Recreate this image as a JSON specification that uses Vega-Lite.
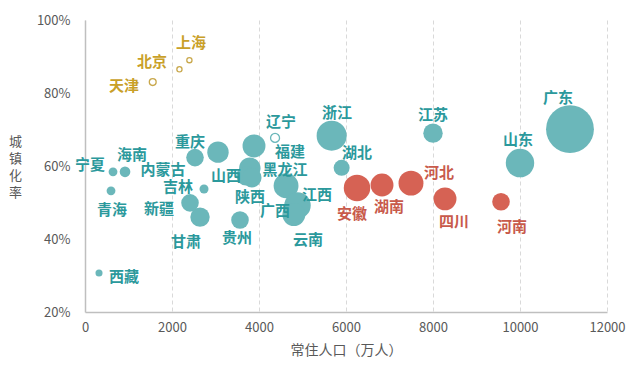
{
  "$schema": "https://vega.github.io/schema/vega-lite/v6.json",
  "width": 522,
  "height": 292,
  "autosize": {"type": "none"},
  "padding": {"left": 85, "top": 20, "right": 35, "bottom": 62},
  "background": "white",
  "config": {"view": {"stroke": null}, "font": "Noto Sans CJK SC"},
  "data": {
    "values": [
      {"name": "北京", "pop": 2171, "rate": 86.5, "inc": 2, "dir": "减", "cat": "京津沪", "lx": 1540, "ly": 88.5},
      {"name": "上海", "pop": 2400, "rate": 89.0, "inc": 2, "dir": "减", "cat": "京津沪", "lx": 2437, "ly": 93.7},
      {"name": "天津", "pop": 1557, "rate": 83.0, "inc": 3.5, "dir": "减", "cat": "京津沪", "lx": 897, "ly": 81.9},
      {"name": "辽宁", "pop": 4369, "rate": 67.7, "inc": 6, "dir": "减", "cat": "其他省份", "lx": 4506, "ly": 72.1},
      {"name": "广东", "pop": 11149, "rate": 70.1, "inc": 170, "dir": "增", "cat": "其他省份", "lx": 10874, "ly": 78.6},
      {"name": "山东", "pop": 10000, "rate": 60.8, "inc": 60, "dir": "增", "cat": "其他省份", "lx": 9954, "ly": 67.1},
      {"name": "江苏", "pop": 8000, "rate": 69.0, "inc": 28, "dir": "增", "cat": "其他省份", "lx": 8000, "ly": 74.0},
      {"name": "浙江", "pop": 5670, "rate": 68.3, "inc": 67, "dir": "增", "cat": "其他省份", "lx": 5793, "ly": 74.5},
      {"name": "湖北", "pop": 5900, "rate": 59.5, "inc": 19, "dir": "增", "cat": "其他省份", "lx": 6253, "ly": 63.6},
      {"name": "福建", "pop": 3885, "rate": 65.5, "inc": 39, "dir": "增", "cat": "其他省份", "lx": 4713, "ly": 63.9},
      {"name": "黑龙江", "pop": 3789, "rate": 59.4, "inc": 34, "dir": "增", "cat": "其他省份", "lx": 4598, "ly": 58.8},
      {"name": "山西", "pop": 3702, "rate": 57.3, "inc": 28, "dir": "增", "cat": "其他省份", "lx": 3241, "ly": 57.3},
      {"name": "陕西", "pop": 3835, "rate": 56.8, "inc": 28, "dir": "增", "cat": "其他省份", "lx": 3793, "ly": 51.5},
      {"name": "江西", "pop": 4622, "rate": 54.6, "inc": 46, "dir": "增", "cat": "其他省份", "lx": 5333, "ly": 52.1},
      {"name": "广西", "pop": 4885, "rate": 49.2, "inc": 52, "dir": "增", "cat": "其他省份", "lx": 4368, "ly": 47.7},
      {"name": "云南", "pop": 4801, "rate": 46.7, "inc": 39, "dir": "增", "cat": "其他省份", "lx": 5126, "ly": 39.7},
      {"name": "贵州", "pop": 3563, "rate": 45.2, "inc": 23, "dir": "增", "cat": "其他省份", "lx": 3494, "ly": 40.3},
      {"name": "甘肃", "pop": 2644, "rate": 46.0, "inc": 28, "dir": "增", "cat": "其他省份", "lx": 2322, "ly": 39.2},
      {"name": "新疆", "pop": 2414, "rate": 49.9, "inc": 23, "dir": "增", "cat": "其他省份", "lx": 1701, "ly": 48.2},
      {"name": "吉林", "pop": 2736, "rate": 53.7, "inc": 6, "dir": "增", "cat": "其他省份", "lx": 2138, "ly": 54.2},
      {"name": "内蒙古", "pop": 2529, "rate": 62.3, "inc": 23, "dir": "增", "cat": "其他省份", "lx": 1793, "ly": 58.9},
      {"name": "重庆", "pop": 3057, "rate": 63.8, "inc": 34, "dir": "增", "cat": "其他省份", "lx": 2414, "ly": 66.6},
      {"name": "海南", "pop": 920, "rate": 58.4, "inc": 8.4, "dir": "增", "cat": "其他省份", "lx": 1080, "ly": 63.0},
      {"name": "宁夏", "pop": 644, "rate": 58.4, "inc": 5.8, "dir": "增", "cat": "其他省份", "lx": 115, "ly": 60.3},
      {"name": "青海", "pop": 598, "rate": 53.2, "inc": 5.8, "dir": "增", "cat": "其他省份", "lx": 621, "ly": 47.9},
      {"name": "西藏", "pop": 322, "rate": 30.7, "inc": 3.7, "dir": "增", "cat": "其他省份", "lx": 897, "ly": 29.6},
      {"name": "安徽", "pop": 6253, "rate": 54.0, "inc": 52, "dir": "增", "cat": "人口大省", "lx": 6138, "ly": 46.8},
      {"name": "湖南", "pop": 6828, "rate": 54.8, "inc": 39, "dir": "增", "cat": "人口大省", "lx": 6989, "ly": 48.8},
      {"name": "河北", "pop": 7494, "rate": 55.3, "inc": 46, "dir": "增", "cat": "人口大省", "lx": 8138, "ly": 58.1},
      {"name": "四川", "pop": 8276, "rate": 51.0, "inc": 39, "dir": "增", "cat": "人口大省", "lx": 8483, "ly": 44.7},
      {"name": "河南", "pop": 9563, "rate": 50.2, "inc": 23, "dir": "增", "cat": "人口大省", "lx": 9816, "ly": 43.3}
    ]
  },
  "layer": [
    {
      "transform": [{"filter": "datum.dir === '增'"}],
      "mark": {"type": "circle", "opacity": 1},
      "encoding": {
        "x": {
          "field": "pop", "type": "quantitative",
          "scale": {"domain": [0, 12000], "nice": false, "zero": true},
          "axis": {
            "title": "常住人口（万人）",
            "values": [0, 2000, 4000, 6000, 8000, 10000, 12000],
            "format": "d",
            "grid": true, "gridDash": [4, 3], "gridColor": "#D9D9D9", "gridWidth": 1,
            "domainColor": "#BFBFBF", "domainWidth": 1.5,
            "ticks": false, "labelPadding": 9, "labelFontSize": 13, "labelColor": "#595959",
            "labelFlush": false,
            "titleFontSize": 14, "titleFontWeight": "normal", "titleColor": "#595959", "titlePadding": 9
          }
        },
        "y": {
          "field": "rate", "type": "quantitative",
          "scale": {"domain": [20, 100], "nice": false, "zero": false},
          "axis": {
            "title": ["城", "镇", "化", "率"],
            "values": [20, 40, 60, 80, 100],
            "labelExpr": "datum.value + '%'",
            "grid": false, "ticks": false,
            "domainColor": "#BFBFBF", "domainWidth": 1.5,
            "labelPadding": 15, "labelFontSize": 13, "labelColor": "#595959",
            "titleAngle": 0, "titleX": -70, "titleY": 121, "titleAlign": "center", "titleBaseline": "middle",
            "titleLineHeight": 17, "titleFontSize": 13, "titleFontWeight": "normal", "titleColor": "#595959"
          }
        },
        "size": {"field": "inc", "type": "quantitative", "scale": {"type": "linear", "domain": [0, 170], "range": [0, 2290], "zero": true}, "legend": null},
        "color": {"field": "cat", "type": "nominal", "scale": {"domain": ["京津沪", "其他省份", "人口大省"], "range": ["#C9A84C", "#6BB7BA", "#D66254"]}, "legend": null}
      }
    },
    {
      "transform": [{"filter": "datum.dir === '减'"}],
      "mark": {"type": "point", "shape": "circle", "filled": false, "strokeWidth": 1.3, "opacity": 1},
      "encoding": {
        "x": {"field": "pop", "type": "quantitative"},
        "y": {"field": "rate", "type": "quantitative"},
        "size": {"field": "inc", "type": "quantitative", "legend": null},
        "color": {"field": "cat", "type": "nominal", "scale": {"domain": ["京津沪", "其他省份", "人口大省"], "range": ["#C9A84C", "#6BB7BA", "#D66254"]}, "legend": null}
      }
    },
    {
      "mark": {"type": "text", "fontWeight": "bold", "fontSize": 15, "align": "center", "baseline": "middle"},
      "encoding": {
        "x": {"field": "lx", "type": "quantitative"},
        "y": {"field": "ly", "type": "quantitative"},
        "text": {"field": "name", "type": "nominal"},
        "color": {"field": "cat", "type": "nominal", "scale": {"domain": ["京津沪", "其他省份", "人口大省"], "range": ["#C9A028", "#2B999C", "#C85A4B"]}, "legend": null}
      }
    }
  ],
  "resolve": {"scale": {"color": "independent"}}
}
